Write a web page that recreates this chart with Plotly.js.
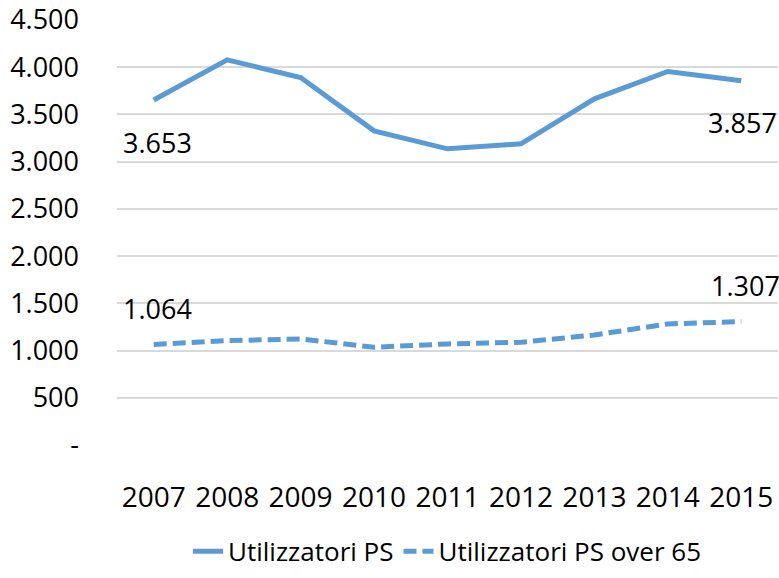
<!DOCTYPE html>
<html>
<head>
<meta charset="utf-8">
<script src="https://cdn.plot.ly/plotly-3.0.1.min.js"></script>
<style>
  body { margin: 0; background: #fff; }
  #chart { width: 779px; height: 578px; }
</style>
</head>
<body>
<div id="chart"></div>
<script>
var years = ['2007','2008','2009','2010','2011','2012','2013','2014','2015'];
var utilizzatori = [3653, 4078, 3891, 3326, 3136, 3189, 3665, 3955, 3857];
var utilizzatoriOver65 = [1064, 1105, 1123, 1035, 1070, 1088, 1165, 1282, 1307];

var yTickVals = [0, 500, 1000, 1500, 2000, 2500, 3000, 3500, 4000, 4500];
var yTickText = ['-', '500', '1.000', '1.500', '2.000', '2.500', '3.000', '3.500', '4.000', '4.500'];

var blue = '#5B9BD5';
var font = 'Open Sans, Noto Sans, sans-serif';

function fmt(v) {
  return String(v).replace(/\B(?=(\d{3})+(?!\d))/g, '.');
}

var trace1 = {
  x: years,
  y: utilizzatori,
  name: 'Utilizzatori PS',
  type: 'scatter',
  mode: 'lines',
  line: {color: blue, width: 5}
};

var trace2 = {
  x: years,
  y: utilizzatoriOver65,
  name: 'Utilizzatori PS over 65',
  type: 'scatter',
  mode: 'lines',
  line: {color: blue, width: 5, dash: '13px,6px'}
};

var last = years.length - 1;

// data labels on first and last point only (category index for x)
var annotations = [
  {x: 0, y: utilizzatori[0], text: fmt(utilizzatori[0]), yshift: -43, xshift: 4},
  {x: last, y: utilizzatori[last], text: fmt(utilizzatori[last]), yshift: -42, xshift: 1},
  {x: 0, y: utilizzatoriOver65[0], text: fmt(utilizzatoriOver65[0]), yshift: 36, xshift: 4},
  {x: last, y: utilizzatoriOver65[last], text: fmt(utilizzatoriOver65[last]), yshift: 36, xshift: 4}
].map(function (a) {
  a.xref = 'x';
  a.yref = 'y';
  a.showarrow = false;
  a.font = {family: font, size: 27, color: '#000'};
  return a;
});

var layout = {
  width: 779,
  height: 578,
  margin: {l: 117, r: 1, t: 20, b: 133, autoexpand: false},
  paper_bgcolor: '#fff',
  plot_bgcolor: '#fff',
  font: {family: font, size: 27, color: '#000'},
  showlegend: true,
  legend: {
    orientation: 'h',
    x: 0.5, xanchor: 'center',
    y: -0.25, yanchor: 'middle',
    font: {family: font, size: 26, color: '#000'}
  },
  xaxis: {
    type: 'category',
    range: [-0.5, 8.5],
    automargin: false,
    showgrid: false,
    showline: false,
    ticks: '',
    tickfont: {size: 28},
    ticklabelstandoff: 33
  },
  yaxis: {
    range: [0, 4500],
    automargin: false,
    tickvals: yTickVals,
    ticktext: yTickText,
    showgrid: true,
    gridcolor: '#D9D9D9',
    gridwidth: 1.5,
    zeroline: false,
    showline: false,
    ticks: '',
    ticklabelstandoff: 37
  },
  annotations: annotations
};

Plotly.newPlot('chart', [trace1, trace2], layout, {displayModeBar: false});
</script>
</body>
</html>
